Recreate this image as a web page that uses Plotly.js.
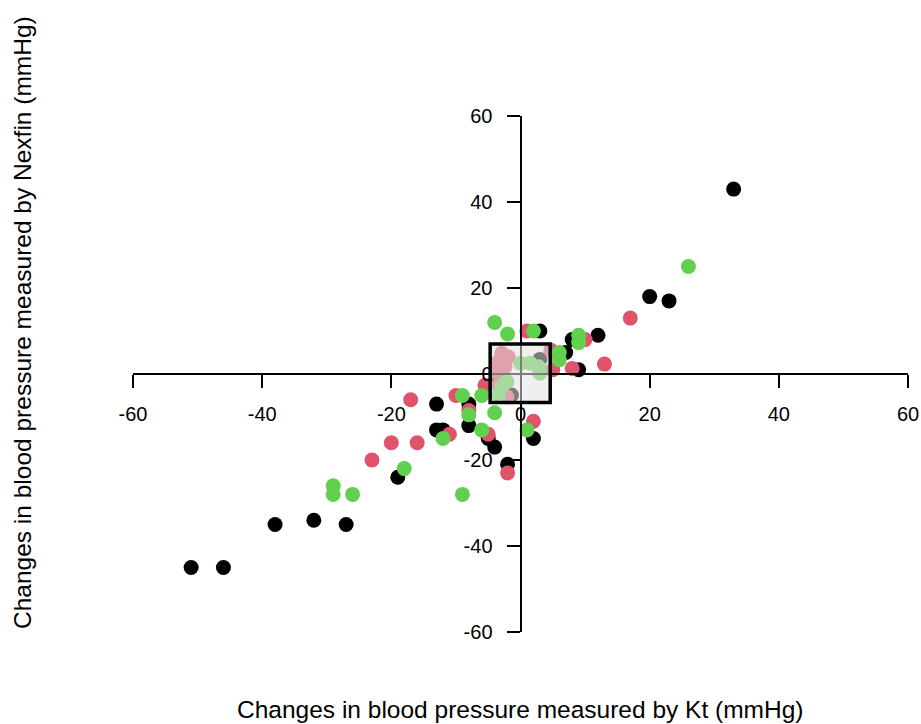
<!DOCTYPE html>
<html>
<head>
<meta charset="utf-8">
<script src="https://cdn.plot.ly/plotly-3.0.1.min.js"></script>
<style>html,body{margin:0;padding:0;background:#fff;}#chart{width:921px;height:724px;}</style>
</head>
<body>
<div id="chart"></div>
<script>
// Group 1 (black)
const blackX = [-51, -46, -38, -32, -27, -19, -13, -13, -12, -8, -8, -5, -4, -2, 2, 3, 7, 8, 12, 9, 20, 23, 33, 3, -3.4, -1.4];
const blackY = [-45, -45, -35, -34, -35, -24, -7, -13, -13, -7, -12, -15, -17, -21, -15, 10, 5, 8, 9, 1, 18, 17, 43, 3.4, -1, -4.9];
// Group 2 (red)
const redX = [-23, -20, -16, -17, -11, -10, -8, -5, -5.5, -2, 2, 1, 10, 13, 8, 5, 17, 4.7, -2.9, -1.9, -3.4, -2.4, -3.7, -3.4, -2.1];
const redY = [-20, -16, -16, -6, -14, -5, -8.5, -14, -2.6, -23, -11, 10, 8, 2.3, 1.3, 1, 13, 5.5, 4.8, 4, 2.9, 1.7, 0.5, -2.6, -5.3];
// Group 3 (green)
const greenX = [-29, -29, -26, -18, -12, -9, -8, -6, -6, -4, -9, 1, -4, -2, 2, 6, 6, 9, 9, 26, 0, 1.5, 2.8, 3, -2.1, -2.9, -3.4];
const greenY = [-26, -28, -28, -22, -15, -5, -9.5, -5, -13, -9, -28, -13, 12, 9.3, 10, 5, 3.3, 9, 7.3, 25, 2.5, 2.5, 1.7, 0.2, -1.8, -2.9, -4.9];

const tickVals = [-60, -40, -20, 0, 20, 40, 60];
const tickText = ["-60", "-40", "-20", "0", "20", "40", "60"];
const boxX = [-4.7, 4.6];
const boxY = [-6.6, 7.0];

function grp(x, y, color) {
  return {x: x, y: y, type: 'scatter', mode: 'markers', showlegend: false,
    marker: {color: color, size: 15, line: {width: 0}}, hoverinfo: 'skip'};
}

const data = [
  grp(blackX, blackY, '#000000'),
  grp(redX, redY, '#DF536B'),
  grp(greenX, greenY, '#61D04F')
];

const font = {family: 'Liberation Sans, Arial, sans-serif', color: '#000'};

const axisCommon = {
  range: [-60, 60], tickvals: tickVals, ticktext: tickText, showgrid: false, zeroline: false,
  showline: true, linecolor: '#000', linewidth: 2, ticks: 'outside', ticklen: 13, tickwidth: 2,
  tickcolor: '#000', tickfont: {family: font.family, size: 20, color: '#000'}, anchor: 'free', position: 0.5
};

const layout = {
  width: 921, height: 724,
  margin: {l: 133, r: 13, t: 116, b: 92},
  paper_bgcolor: '#fff', plot_bgcolor: '#fff',
  showlegend: false,
  xaxis: Object.assign({}, axisCommon, {side: 'bottom', ticklabelstandoff: 9}),
  yaxis: Object.assign({}, axisCommon, {side: 'left', ticklabelstandoff: 10}),
  shapes: [{
    type: 'rect', xref: 'x', yref: 'y', x0: boxX[0], x1: boxX[1], y0: boxY[0], y1: boxY[1],
    line: {color: '#000', width: 3.5}, fillcolor: 'rgba(225,225,225,0.55)', layer: 'above'
  }],
  annotations: [
    {text: 'Changes in blood pressure measured by Kt (mmHg)', xref: 'paper', yref: 'paper',
     x: 0.4994, y: -0.151, xanchor: 'center', yanchor: 'middle', showarrow: false,
     font: {family: font.family, size: 24.5, color: '#000'}},
    {text: 'Changes in blood pressure measured by Nexfin (mmHg)', xref: 'paper', yref: 'paper',
     x: -0.1432, y: 0.5988, xanchor: 'center', yanchor: 'middle', showarrow: false, textangle: -90,
     font: {family: font.family, size: 24.5, color: '#000'}}
  ]
};

Plotly.newPlot('chart', data, layout, {displayModeBar: false, staticPlot: true});
</script>
</body>
</html>
